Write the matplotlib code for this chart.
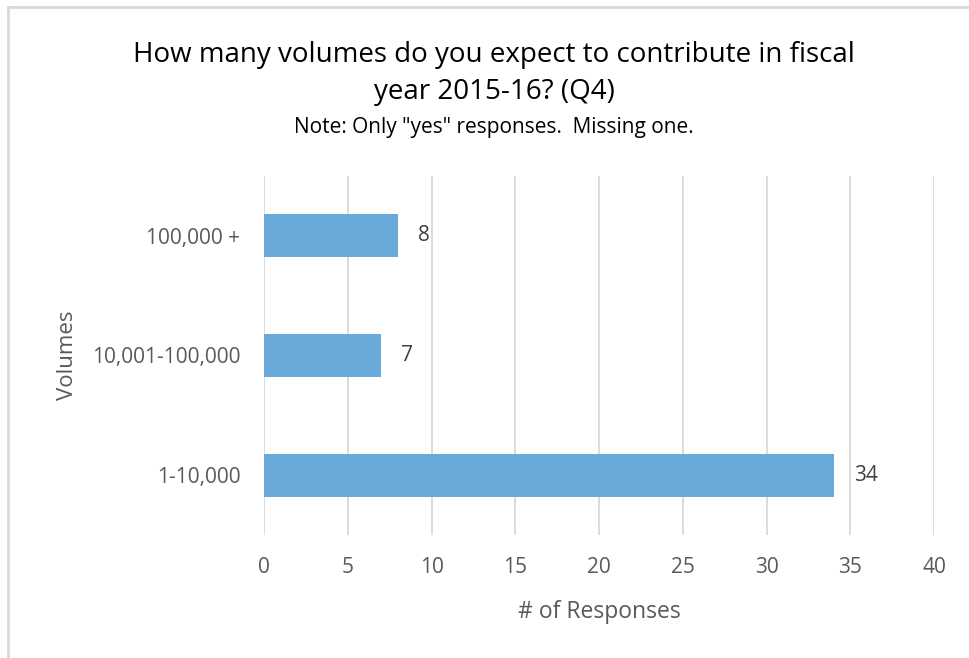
import matplotlib
matplotlib.use("Agg")
from matplotlib import pyplot as plt
from matplotlib.lines import Line2D

categories = ["1-10,000", "10,001-100,000", "100,000 +"]
responses = [34, 7, 8]
xticks = [0, 5, 10, 15, 20, 25, 30, 35, 40]

plt.rcParams['font.family'] = ['Open Sans', 'DejaVu Sans']

fig = plt.figure(figsize=(9.69, 6.58), dpi=100)
ax = fig.add_axes([264/969, 1-535/658, 670/969, 359/658])

bars = ax.barh(range(len(categories)), responses, height=0.36, color='#6aaadb')
ax.set_ylim(-0.5, 2.5)
ax.set_xlim(0, 40)
ax.set_xticks(xticks)
ax.set_yticks(range(len(categories)))
ax.set_yticklabels(categories)
ax.grid(axis='x', color='#d9d9d9', linewidth=1.3)
ax.set_axisbelow(True)
for s in ax.spines.values():
    s.set_visible(False)
ax.tick_params(length=0, labelsize=15, colors='#595959')
ax.tick_params(axis='x', pad=16)
ax.tick_params(axis='y', pad=17)

for b, v in zip(bars, responses):
    ax.text(v + 1.2, b.get_y() + b.get_height()/2, str(v), va='center', ha='left',
            fontsize=15, color='#404040')

ax.set_xlabel('# of Responses', fontsize=16.5, color='#595959', labelpad=16)
ax.set_ylabel('Volumes', fontsize=16, color='#595959', labelpad=10)

fig.text(494/969, 1-55/658, 'How many volumes do you expect to contribute in fiscal',
         ha='center', va='center', fontsize=20, color='#000000')
fig.text(494/969, 1-92/658, 'year 2015-16? (Q4)',
         ha='center', va='center', fontsize=20, color='#000000')
fig.text(494/969, 1-127/658, 'Note: Only "yes" responses.  Missing one.',
         ha='center', va='center', fontsize=15, color='#000000')

# chart border (only left and top visible)
fig.add_artist(Line2D([8/969, 8/969], [0, 1-7/658], color='#d9d9d9', lw=2, transform=fig.transFigure))
fig.add_artist(Line2D([8/969, 1], [1-7/658, 1-7/658], color='#d9d9d9', lw=2, transform=fig.transFigure))

fig.savefig('out.png', dpi=100)
